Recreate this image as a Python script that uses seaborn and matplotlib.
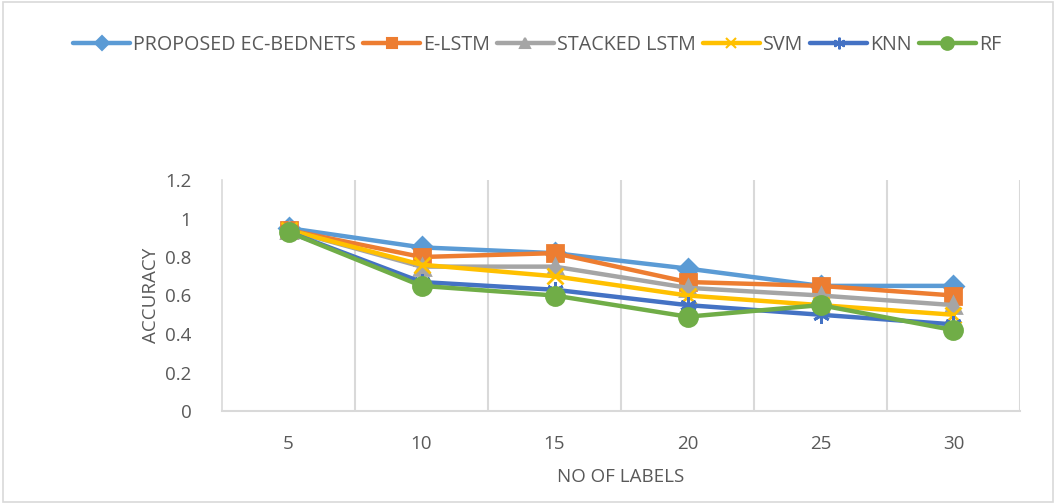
import matplotlib
matplotlib.use("Agg")
import matplotlib.pyplot as plt
import seaborn as sns
import pandas as pd
from matplotlib.patches import Rectangle
from matplotlib.lines import Line2D

labels = [5, 10, 15, 20, 25, 30]
proposed = [0.95, 0.85, 0.82, 0.74, 0.65, 0.65]
e_lstm = [0.94, 0.80, 0.82, 0.67, 0.65, 0.60]
stacked_lstm = [0.94, 0.75, 0.75, 0.64, 0.60, 0.55]
svm = [0.94, 0.76, 0.70, 0.60, 0.55, 0.50]
knn = [0.93, 0.67, 0.63, 0.55, 0.50, 0.45]
rf = [0.93, 0.65, 0.60, 0.49, 0.55, 0.42]

series_names = ["PROPOSED EC-BEDNETS", "E-LSTM", "STACKED LSTM", "SVM", "KNN", "RF"]
series_values = [proposed, e_lstm, stacked_lstm, svm, knn, rf]
colors = ["#5B9BD5", "#ED7D31", "#A5A5A5", "#FFC000", "#4472C4", "#70AD47"]
markers = ["D", "s", "^", "x", (6, 2, 0), "o"]
msizes = [10, 11, 11, 11, 12, 13]

rows = []
for name, vals in zip(series_names, series_values):
    for lab, v in zip(labels, vals):
        rows.append({"labels": lab, "accuracy": v, "series": name})
df = pd.DataFrame(rows)

sns.set_theme(style="white")
plt.rcParams["font.family"] = ["Open Sans", "DejaVu Sans"]
text_color = "#595959"

fig = plt.figure(figsize=(10.56, 5.04), dpi=100)
ax = fig.add_axes([222 / 1056, 1 - 411 / 504, (1020 - 222) / 1056, (411 - 180) / 504])

for name, col, mk, ms in zip(series_names, colors, markers, msizes):
    sub = df[df["series"] == name]
    sns.lineplot(data=sub, x="labels", y="accuracy", ax=ax, color=col, marker=mk,
                 markersize=ms, linewidth=3.2, label=name, legend=False)

for line, col in zip(ax.lines, colors):
    line.set_markeredgecolor(col)
    line.set_markerfacecolor(col)
    line.set_markeredgewidth(2)

ax.set_xlim(2.5, 32.5)
ax.set_ylim(0, 1.2)
ax.set_yticks([0, 0.2, 0.4, 0.6, 0.8, 1.0, 1.2])
ax.set_yticklabels(["0", "0.2", "0.4", "0.6", "0.8", "1", "1.2"])
ax.set_xticks(labels)
ax.set_xticklabels([str(l) for l in labels])
for xb in [7.5, 12.5, 17.5, 22.5, 27.5, 32.5]:
    ax.axvline(xb, color="#D9D9D9", linewidth=1.5, zorder=0)

for side in ["top", "right"]:
    ax.spines[side].set_visible(False)
ax.spines["left"].set_color("#D9D9D9")
ax.spines["bottom"].set_color("#D9D9D9")
ax.spines["left"].set_linewidth(1.2)
ax.spines["bottom"].set_linewidth(1.5)

ax.tick_params(axis="both", length=0, labelsize=13.5, colors=text_color)
ax.tick_params(axis="x", pad=17)
ax.tick_params(axis="y", pad=22)
ax.set_xlabel("NO OF LABELS", fontsize=13.5, color=text_color, labelpad=11)
ax.set_ylabel("ACCURACY", fontsize=13.5, color=text_color, labelpad=4)

# legend keys use smaller markers than the plotted points
handles = [Line2D([], [], color=c, marker=m, markersize=ms * 0.7, linewidth=3.2,
                  markeredgecolor=c, markerfacecolor=c, markeredgewidth=1.5)
           for c, m, ms in zip(colors, markers, msizes)]
fig.legend(handles, series_names, loc="center", bbox_to_anchor=(537 / 1056, 1 - 45 / 504),
           ncol=6, frameon=False, fontsize=14.2, handlelength=2.9, handletextpad=0.15,
           columnspacing=0.35, labelcolor=text_color)

fig.patches.append(Rectangle((0.003, 0.003), 0.994, 0.994, transform=fig.transFigure,
                             fill=False, edgecolor="#D9D9D9", linewidth=1.2))

fig.savefig("out.png", dpi=100)
